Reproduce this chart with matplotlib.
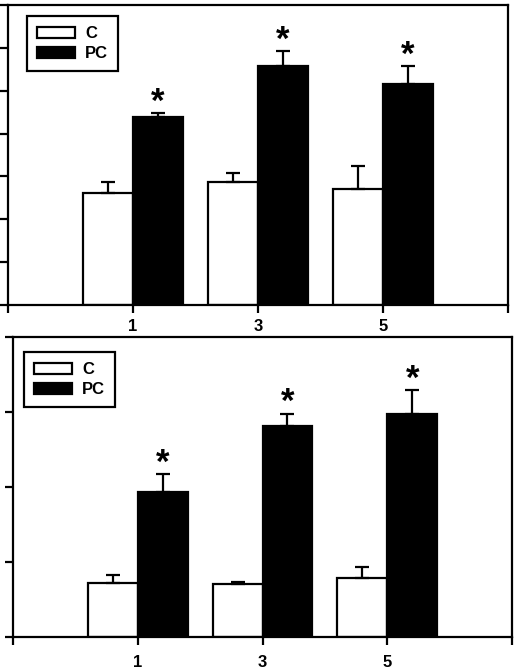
import matplotlib
matplotlib.use('Agg')
import matplotlib.pyplot as plt
import numpy as np

plt.rcParams['font.family'] = ['Liberation Sans', 'DejaVu Sans']
plt.rcParams['font.weight'] = 'bold'

# x categories (tick labels) and the two groups
days = ['1', '3', '5']
groups = ['C', 'PC']

# upper panel
top_c = [2.61, 2.88, 2.71]
top_c_err = [0.27, 0.20, 0.54]
top_pc = [4.38, 5.58, 5.16]
top_pc_err = [0.09, 0.35, 0.41]

# lower panel
bot_c = [0.72, 0.71, 0.785]
bot_c_err = [0.11, 0.03, 0.15]
bot_pc = [1.94, 2.81, 2.98]
bot_pc_err = [0.23, 0.17, 0.31]


def draw_panel(ax, c, c_err, pc, pc_err, ymax, legend_xy, label_pad):
    x = np.arange(1, len(days) + 1)
    w = 0.4
    ekw = dict(elinewidth=1.6, capsize=5, capthick=1.6, ecolor='black')
    ax.bar(x - w / 2, c, w, color='white', edgecolor='black', linewidth=1.6,
           label=groups[0], yerr=[np.zeros(len(c)), c_err], error_kw=ekw, zorder=2)
    ax.bar(x + w / 2, pc, w, color='black', edgecolor='black', linewidth=1.6,
           label=groups[1], yerr=[np.zeros(len(pc)), pc_err], error_kw=ekw, zorder=2)
    # significance stars
    for xi, v, e in zip(x + w / 2, pc, pc_err):
        ax.annotate('*', (xi, v + e), xytext=(0, 1), textcoords='offset points',
                    ha='center', va='baseline', fontsize=25, fontweight='bold')
    ax.set_xlim(0, len(days) + 1)
    ax.set_ylim(0, ymax)
    ax.set_xticks(np.arange(0, len(days) + 2))
    ax.set_xticklabels([''] + days + [''])
    ax.set_yticks(np.arange(0, ymax + 1))
    ax.set_yticklabels([])
    ax.tick_params(axis='both', direction='out', length=6, width=1.6,
                   labelsize=12, pad=label_pad)
    for s in ax.spines.values():
        s.set_linewidth(1.6)
    leg = ax.legend(loc='upper left', bbox_to_anchor=legend_xy, borderaxespad=0,
                    fancybox=False, edgecolor='black', framealpha=1,
                    fontsize=12, handlelength=2.3, handleheight=0.63,
                    handletextpad=0.6, labelspacing=0.3, borderpad=0.6)
    leg.get_frame().set_linewidth(1.6)
    for t in leg.get_texts():
        t.set_fontweight('bold')


fig = plt.figure(figsize=(5.14, 6.69), dpi=100)
ax1 = fig.add_axes([8 / 514, 364 / 669, 500 / 514, 300 / 669])
ax2 = fig.add_axes([13 / 514, 32 / 669, 499 / 514, 300 / 669])

draw_panel(ax1, top_c, top_c_err, top_pc, top_pc_err, 7, (0.038, 0.963), 4.3)
draw_panel(ax2, bot_c, bot_c_err, bot_pc, bot_pc_err, 4, (0.022, 0.95), 7.2)

fig.savefig('out.png', dpi=100)
